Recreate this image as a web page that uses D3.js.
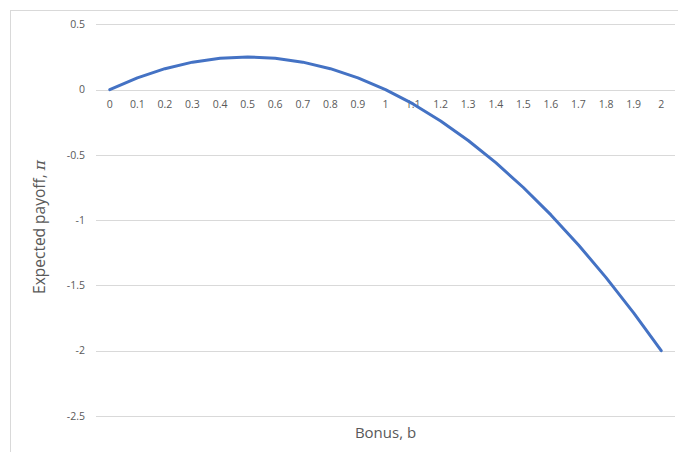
<!DOCTYPE html>
<html><head><meta charset="utf-8">
<script src="https://cdn.jsdelivr.net/npm/d3@7"></script>
<style>body{margin:0;background:#fff;} svg{display:block;} text{font-family:"Open Sans","Noto Sans",sans-serif;}</style>
</head><body><svg id="c" width="678" height="452"></svg>
<script>
const categories = ["0","0.1","0.2","0.3","0.4","0.5","0.6","0.7","0.8","0.9","1","1.1","1.2","1.3","1.4","1.5","1.6","1.7","1.8","1.9","2"];
const payoff = [0,0.09,0.16,0.21,0.24,0.25,0.24,0.21,0.16,0.09,0,-0.11,-0.24,-0.39,-0.56,-0.75,-0.96,-1.19,-1.44,-1.71,-2];
const yTicks = [0.5,0,-0.5,-1,-1.5,-2,-2.5];
const xTitle = "Bonus, b";
const yTitle = "Expected payoff, ";
const yTitleSym = "\u03C0";

(function(){
const svg = d3.select("#c");
const pLeft = 96, pRight = 675, pTop = 24.3, pBottom = 416;
svg.append("rect").attr("x",10.5).attr("y",10.5).attr("width",680).attr("height",460)
  .attr("fill","none").attr("stroke","#d9d9d9").attr("stroke-width",1);

const x = d3.scaleBand().domain(categories).range([pLeft,pRight]).padding(0);
const y = d3.scaleLinear().domain([-2.5,0.5]).range([pBottom,pTop]);

svg.append("g").selectAll("line").data(yTicks).join("line")
  .attr("x1",pLeft).attr("x2",pRight)
  .attr("y1",d=>Math.round(y(d))+0.5).attr("y2",d=>Math.round(y(d))+0.5)
  .attr("stroke","#d9d9d9").attr("stroke-width",1);

svg.append("g").selectAll("text").data(yTicks).join("text")
  .attr("x",85).attr("y",d=>y(d)).attr("dy","0.35em")
  .attr("text-anchor","end").attr("font-size",10.5).attr("fill","#595959")
  .text(d=>String(d));

svg.append("g").selectAll("text").data(categories).join("text")
  .attr("x",d=>x(d)+x.bandwidth()/2).attr("y",y(0)+15).attr("dy","0.35em")
  .attr("text-anchor","middle").attr("font-size",10.5).attr("fill","#595959")
  .text(d=>d);

const line = d3.line().x((d,i)=>x(categories[i])+x.bandwidth()/2).y(d=>y(d));
svg.append("path").datum(payoff).attr("d",line)
  .attr("fill","none").attr("stroke","#4472C4").attr("stroke-width",3)
  .attr("stroke-linejoin","round").attr("stroke-linecap","round");

svg.append("text").attr("x",(pLeft+pRight)/2).attr("y",433).attr("dy","0.35em")
  .attr("text-anchor","middle").attr("font-size",15).attr("fill","#595959").text(xTitle);
const yt = svg.append("text").attr("transform","translate(40,227) rotate(-90)").attr("dy","0.35em")
  .attr("text-anchor","middle").attr("font-size",15.5).attr("fill","#595959");
yt.append("tspan").text(yTitle);
yt.append("tspan").attr("font-family","DejaVu Serif, serif").attr("font-style","italic").text(yTitleSym);
})();
</script></body></html>
